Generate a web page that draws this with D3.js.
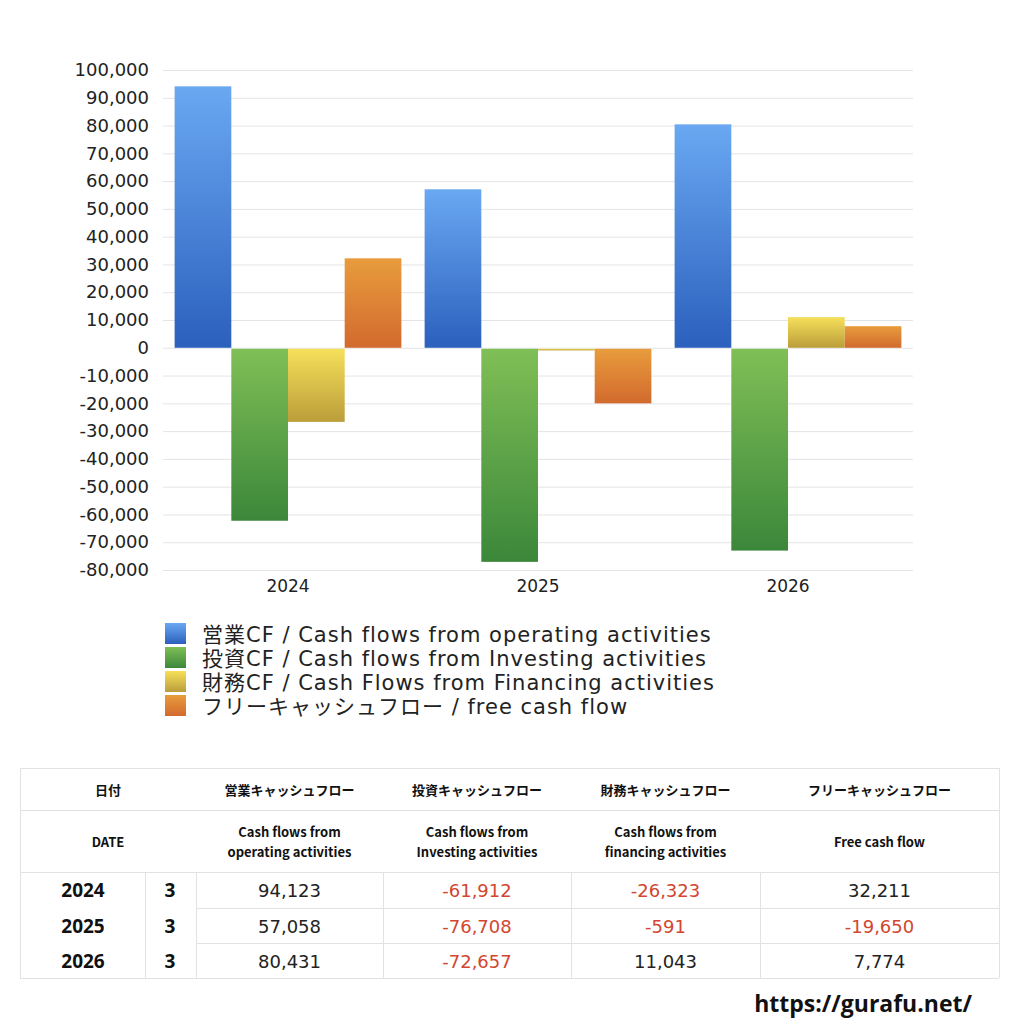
<!DOCTYPE html>
<html><head><meta charset="utf-8">
<script src="https://cdn.jsdelivr.net/npm/d3@7"></script>
<style>
html,body{margin:0;padding:0;background:#fff;}
svg{display:block;font-family:"Open Sans","Noto Sans CJK JP",sans-serif;}
</style></head>
<body>
<svg id="c" width="1024" height="1024"></svg>
<script>
const years = ["2024","2025","2026"];
const months = ["3","3","3"];
const seriesKeys = ["op","inv","fin","free"];
const operating = [94123, 57058, 80431];
const investing = [-61912, -76708, -72657];
const financing = [-26323, -591, 11043];
const freeCF = [32211, -19650, 7774];
const yTicks = [100000,90000,80000,70000,60000,50000,40000,30000,20000,10000,0,-10000,-20000,-30000,-40000,-50000,-60000,-70000,-80000];
const legendLabels = ["営業CF / Cash flows from operating activities","投資CF / Cash flows from Investing activities","財務CF / Cash Flows from Financing activities","フリーキャッシュフロー / free cash flow"];
const headJa = ["営業キャッシュフロー","投資キャッシュフロー","財務キャッシュフロー","フリーキャッシュフロー"];
const headEn = [["Cash flows from","operating activities"],["Cash flows from","Investing activities"],["Cash flows from","financing activities"],["Free cash flow"]];

const seriesVals = [operating, investing, financing, freeCF];
const grads = [["#6aa8f2","#2b60bd"],["#80bf56","#3b873a"],["#f5e05a","#bb9d3a"],["#e89c3d","#d26a2e"]];

const loc = d3.formatLocale({decimal:".",thousands:",",grouping:[3],currency:["",""],minus:"-"});
const fmt = loc.format(",");

const svg = d3.select("#c");
const defs = svg.append("defs");
grads.forEach((g,i)=>{
  const lg = defs.append("linearGradient").attr("id","g"+i).attr("x1",0).attr("y1",0).attr("x2",0).attr("y2",1);
  lg.append("stop").attr("offset","0%").attr("stop-color",g[0]);
  lg.append("stop").attr("offset","100%").attr("stop-color",g[1]);
});

const x0 = d3.scaleBand().domain(years).range([163,913]).paddingInner(0).paddingOuter(0);
const x1 = d3.scaleBand().domain(seriesKeys).range([0,x0.bandwidth()]).paddingOuter(0.205).paddingInner(0);
const y = d3.scaleLinear().domain([-80000,100000]).range([570,70]);

// grid
svg.append("g").selectAll("line").data(yTicks).join("line")
  .attr("x1",163).attr("x2",913).attr("y1",d=>y(d)+0.5).attr("y2",d=>y(d)+0.5)
  .attr("stroke","#e4e4e4").attr("stroke-width",1);

// y axis labels
const yAxis = d3.axisLeft(y).tickValues(yTicks).tickSize(0).tickPadding(0).tickFormat(fmt);
const ya = svg.append("g").attr("transform","translate(149,0)").call(yAxis);
ya.select(".domain").remove();
ya.selectAll("text").attr("font-size",18).attr("fill","#222").attr("font-family","'DejaVu Sans',sans-serif");

// x axis labels
const xAxis = d3.axisBottom(x0).tickSize(0).tickPadding(0);
const xa = svg.append("g").attr("transform","translate(0,578)").call(xAxis);
xa.select(".domain").remove();
xa.selectAll("text").attr("font-size",17).attr("fill","#222").attr("dy","0.85em").attr("font-family","'DejaVu Sans',sans-serif");

// bars
const groups = svg.append("g").selectAll("g").data(years).join("g")
  .attr("transform",d=>`translate(${x0(d)},0)`);
groups.selectAll("rect").data((d,i)=>seriesKeys.map((k,j)=>({k,j,v:seriesVals[j][i]}))).join("rect")
  .attr("x",d=>x1(d.k)).attr("width",x1.bandwidth())
  .attr("y",d=>d.v>=0?y(d.v):y(0)+1)
  .attr("height",d=>Math.max(1,Math.abs(y(d.v)-y(0))))
  .attr("fill",d=>`url(#g${d.j})`);

// legend
const lg = svg.append("g").selectAll("g").data(legendLabels).join("g")
  .attr("transform",(d,i)=>`translate(165,${623+i*24})`);
lg.append("rect").attr("width",21).attr("height",21).attr("fill",(d,i)=>`url(#g${i})`);
lg.append("text").attr("x",37).attr("y",18.5).attr("font-size",21).attr("letter-spacing",1.0)
  .attr("font-family","'DejaVu Sans','Noto Sans CJK JP',sans-serif").attr("fill","#222").text(d=>d);

// table
const tb = svg.append("g").attr("font-family","'Noto Sans CJK JP',sans-serif");
const colX = [20,145,196,383,571,760,999];
const rowY = [768,810,872,908,943,978];
const lc = "#e2e2e2";
const L=(a,b,c,d)=>tb.append("line").attr("x1",a).attr("y1",b).attr("x2",c).attr("y2",d).attr("stroke",lc).attr("stroke-width",1);
L(20,768.5,999,768.5); L(20,810.5,999,810.5); L(20,872.5,999,872.5); L(20,978.5,999,978.5);
L(196,908.5,999,908.5); L(196,943.5,999,943.5);
L(20.5,768,20.5,978); L(999.5,768,999.5,978);
[145,196,383,571,760].forEach(c=>L(c+0.5,872,c+0.5,978));
const T=(x,yy,s,opt={})=>tb.append("text").attr("x",x).attr("y",yy).attr("text-anchor",opt.anchor||"middle")
  .attr("font-size",opt.size||13).attr("font-weight",opt.weight||"normal").attr("fill",opt.fill||"#111")
  .attr("font-family",opt.font||null).text(s);
T(108,795,"日付",{weight:"bold"});
T(108,847,"DATE",{weight:"bold"});
headJa.forEach((h,i)=>T((colX[i+2]+colX[i+3])/2,795,h,{weight:"bold"}));
headEn.forEach((h,i)=>{
  const cx=(colX[i+2]+colX[i+3])/2;
  if(h.length===2){T(cx,837,h[0],{weight:"bold"});T(cx,857,h[1],{weight:"bold"});}
  else T(cx,847,h[0],{weight:"bold"});
});
years.forEach((yr,r)=>{
  const cy=(rowY[r+2]+rowY[r+3])/2+7;
  T(83,cy,yr,{size:19,weight:"bold",font:"'Open Sans',sans-serif"});
  T(170,cy,months[r],{size:19,weight:"bold",font:"'Open Sans',sans-serif"});
  seriesVals.forEach((s,j)=>{
    const v=s[r];
    T((colX[j+2]+colX[j+3])/2,cy,fmt(v),{size:18,fill:v<0?"#d2462f":"#222",font:"'DejaVu Sans',sans-serif"});
  });
});
svg.append("text").attr("x",972).attr("y",1012).attr("text-anchor","end").attr("font-family","'Open Sans',sans-serif")
  .attr("font-size",23).attr("font-weight","bold").attr("fill","#111").text("https://gurafu.net/");
</script>
</body></html>
